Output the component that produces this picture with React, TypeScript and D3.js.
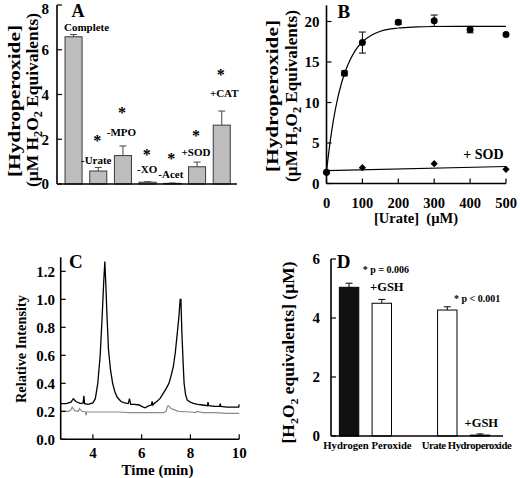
import React from "react";
import * as d3 from "d3";

const FONT = "'Liberation Serif', 'Times New Roman', Times, serif";

// ---------- Panel A ----------
const aCategories = ["Complete", "-Urate", "-MPO", "-XO", "-Acet", "+SOD", "+CAT"];
const aValues = [6.58, 0.58, 1.27, 0.08, 0.03, 0.77, 2.63];
const aErrors = [0.1, 0.16, 0.43, 0.02, 0.01, 0.21, 0.63];
const aLabelLevels = [7.05, 1.07, 2.34, 0.67, 0.45, 1.43, 4.08];
const aStarLevels = [NaN, 2.07, 3.31, 1.44, 1.26, 2.29, 5.02];
const aTicks = [0, 2, 4, 6, 8];

// ---------- Panel B ----------
const bConc = [0, 50, 100, 200, 300, 400, 500];
const bMean = [1.4, 13.6, 17.4, 19.9, 20.1, 19.0, 18.4];
const bErr = [0, 0.3, 1.3, 0.25, 0.7, 0.4, 0];
const sodConc = [0, 100, 300, 500];
const sodMean = [1.3, 1.95, 2.45, 1.75];
const fitConc = [0, 10, 20, 30, 40, 50, 60, 80, 100, 125, 150, 200, 250, 300, 400, 500];
const fitMean = [1.5, 5.1, 8.0, 10.3, 12.1, 13.55, 14.7, 16.4, 17.5, 18.3, 18.8, 19.2, 19.33, 19.38, 19.4, 19.4];
const sodFitConc = [0, 500];
const sodFitMean = [1.6, 2.1];
const bYTicks = [0, 5, 10, 15, 20];
const bXTicks = [0, 100, 200, 300, 400, 500];

// ---------- Panel C ----------
const blackTime = [2.68, 2.9, 3.1, 3.2, 3.3, 3.5, 3.6, 3.63, 3.66, 3.8, 4.0, 4.1, 4.2, 4.3, 4.38, 4.44, 4.49, 4.53, 4.58, 4.64, 4.72, 4.81, 4.9, 5.0, 5.15, 5.3, 5.45, 5.5, 5.55, 5.7, 5.9, 6.0, 6.14, 6.3, 6.4, 6.43, 6.46, 6.5, 6.62, 6.75, 6.89, 7.0, 7.12, 7.2, 7.3, 7.38, 7.46, 7.53, 7.58, 7.61, 7.65, 7.7, 7.74, 7.8, 7.87, 8.0, 8.12, 8.3, 8.5, 8.7, 8.72, 8.75, 9.0, 9.2, 9.22, 9.25, 9.5, 9.7, 9.98, 10.0];
const blackIntensity = [0.255, 0.255, 0.265, 0.29, 0.27, 0.255, 0.26, 0.31, 0.255, 0.25, 0.26, 0.29, 0.4, 0.6, 0.876, 1.11, 1.27, 1.11, 0.876, 0.64, 0.5, 0.4, 0.34, 0.3, 0.27, 0.26, 0.255, 0.29, 0.25, 0.25, 0.245, 0.235, 0.225, 0.24, 0.245, 0.27, 0.245, 0.255, 0.27, 0.29, 0.33, 0.36, 0.4, 0.45, 0.52, 0.62, 0.757, 0.88, 1.0, 1.0, 0.757, 0.55, 0.4, 0.32, 0.28, 0.265, 0.257, 0.25, 0.245, 0.24, 0.265, 0.24, 0.235, 0.235, 0.255, 0.235, 0.23, 0.23, 0.23, 0.25];
const grayTime = [2.68, 3.0, 3.1, 3.15, 3.25, 3.4, 3.45, 3.55, 3.7, 3.72, 3.75, 4.0, 4.5, 5.0, 5.5, 6.0, 6.5, 6.9, 7.0, 7.05, 7.1, 7.2, 7.35, 7.5, 8.0, 8.2, 8.25, 8.5, 9.0, 9.5, 10.0];
const grayIntensity = [0.2, 0.2, 0.21, 0.23, 0.205, 0.2, 0.22, 0.2, 0.195, 0.17, 0.195, 0.195, 0.195, 0.195, 0.19, 0.19, 0.19, 0.19, 0.2, 0.235, 0.24, 0.22, 0.21, 0.2, 0.195, 0.19, 0.2, 0.19, 0.19, 0.185, 0.185];
const cYTicks = [0, 0.2, 0.4, 0.6, 0.8, 1.0, 1.2];
const cXTicks = [4, 6, 8, 10];

// ---------- Panel D ----------
const dSlots = ["h2o2", "h2o2gsh", "gap", "urate", "urategsh"];
const dBarSlots = ["h2o2", "h2o2gsh", "urate", "urategsh"];
const dValues = [5.04, 4.5, 4.27, 0.03];
const dErrors = [0.14, 0.13, 0.11, 0.04];
const dFills = ["#111111", "#ffffff", "#ffffff", "#ffffff"];
const dGroupLabels = ["Hydrogen Peroxide", "Urate Hydroperoxide"];
const dYTicks = [0, 2, 4, 6];

const bold = { fontFamily: FONT, fontWeight: "bold" as const };

function RotTitle(props: { cx: number; cy: number; len: number; size: number; children: React.ReactNode }) {
  const { cx, cy, len, size, children } = props;
  return (
    <text
      transform={`translate(${cx},${cy}) rotate(-90)`}
      textAnchor="middle"
      dy="0.35em"
      fontSize={size}
      textLength={len}
      lengthAdjust="spacingAndGlyphs"
      {...bold}
    >
      {children}
    </text>
  );
}

export default function App() {
  const axisW = 1.6;

  // Panel A scales
  const aX = d3.scaleBand<string>().domain(aCategories).range([61.2, 234.1]).paddingInner(0.31).paddingOuter(0.155);
  const aY = d3.scaleLinear().domain([0, 8]).range([184, 5]);
  const aLabelDx = [13, -2, -1.5, -0.5, -1.5, -1, 2.5];

  // Panel B scales
  const bX = d3.scaleLinear().domain([0, 500]).range([326.5, 506]);
  const bY = d3.scaleLinear().domain([0, 20]).range([183.5, 21.5]);
  const fitLine = d3.line<number>().x((d) => bX(d)).y((_, i) => bY(fitMean[i])).curve(d3.curveMonotoneX);
  const sodLine = d3.line<number>().x((d) => bX(d)).y((_, i) => bY(sodFitMean[i]));
  const diamond = d3.symbol().type(d3.symbolSquare).size(26)();

  // Panel C scales
  const cX = d3.scaleLinear().domain([2.68, 10]).range([60.7, 239.2]);
  const cY = d3.scaleLinear().domain([0, 1.3]).range([439.3, 257.3]);
  const blackLine = d3.line<number>().x((d) => cX(d)).y((_, i) => cY(blackIntensity[i]));
  const grayLine = d3.line<number>().x((d) => cX(d)).y((_, i) => cY(grayIntensity[i]));

  // Panel D scales
  const dX = d3.scaleBand<string>().domain(dSlots).range([332.8, 496.3]).paddingInner(0.407).paddingOuter(0.2);
  const dY = d3.scaleLinear().domain([0, 6]).range([436, 259]);
  const dc = (s: string) => (dX(s) as number) + dX.bandwidth() / 2;

  return (
    <svg width={520} height={478} style={{ position: "absolute", left: 0, top: 0, background: "#fff" }}>
      <rect x={0} y={0} width={520} height={478} fill="#fff" />

      {/* ================= Panel A ================= */}
      <g>
        {aCategories.map((c, i) => {
          const x = aX(c) as number;
          const w = aX.bandwidth();
          const cx = x + w / 2;
          return (
            <g key={c}>
              <line x1={cx} x2={cx} y1={aY(aValues[i])} y2={aY(aValues[i] + aErrors[i])} stroke="#444" strokeWidth={1} />
              <line x1={cx - 3.5} x2={cx + 3.5} y1={aY(aValues[i] + aErrors[i])} y2={aY(aValues[i] + aErrors[i])} stroke="#444" strokeWidth={1} />
              <rect x={x} y={aY(aValues[i])} width={w} height={aY(0) - aY(aValues[i])} fill="#bdbdbd" stroke="#3a3a3a" strokeWidth={1} />
              <text x={cx + aLabelDx[i]} y={aY(aLabelLevels[i]) + 0.5} dy="0.35em" textAnchor="middle" fontSize={11} {...bold}>
                {c}
              </text>
              {!isNaN(aStarLevels[i]) && (
                <text x={cx - 1} y={aY(aStarLevels[i]) + 8} textAnchor="middle" fontSize={16} {...bold}>
                  *
                </text>
              )}
            </g>
          );
        })}
        <line x1={57} x2={237} y1={aY(0)} y2={aY(0)} stroke="#000" strokeWidth={axisW} />
        <line x1={57} x2={57} y1={aY(0)} y2={aY(8)} stroke="#000" strokeWidth={axisW} />
        {aTicks.map((t) => (
          <g key={t}>
            <line x1={57} x2={62} y1={aY(t)} y2={aY(t)} stroke="#000" strokeWidth={1.2} />
            <text x={49} y={Math.max(aY(t), 8.5)} dy="0.35em" textAnchor="end" fontSize={15} {...bold}>
              {t}
            </text>
          </g>
        ))}
        <text x={78} y={10.5} dy="0.35em" textAnchor="middle" fontSize={18} {...bold}>A</text>
        <RotTitle cx={14} cy={101} len={152} size={17}>[Hydroperoxide]</RotTitle>
        <RotTitle cx={31.7} cy={100} len={174} size={17}>
          (µM H<tspan dy={4} fontSize={12}>2</tspan>
          <tspan dy={-4}>O</tspan>
          <tspan dy={4} fontSize={12}>2</tspan>
          <tspan dy={-4}> Equivalents)</tspan>
        </RotTitle>
      </g>

      {/* ================= Panel B ================= */}
      <g>
        <path d={fitLine(fitConc) || ""} fill="none" stroke="#000" strokeWidth={1.2} />
        <path d={sodLine(sodFitConc) || ""} fill="none" stroke="#000" strokeWidth={1.2} />
        {bConc.map((c, i) =>
          bErr[i] > 0 ? (
            <g key={"e" + c}>
              <line x1={bX(c)} x2={bX(c)} y1={bY(bMean[i] - bErr[i])} y2={bY(bMean[i] + bErr[i])} stroke="#000" strokeWidth={1} />
              <line x1={bX(c) - 3.5} x2={bX(c) + 3.5} y1={bY(bMean[i] + bErr[i])} y2={bY(bMean[i] + bErr[i])} stroke="#000" strokeWidth={1} />
              <line x1={bX(c) - 3.5} x2={bX(c) + 3.5} y1={bY(bMean[i] - bErr[i])} y2={bY(bMean[i] - bErr[i])} stroke="#000" strokeWidth={1} />
            </g>
          ) : null
        )}
        {bConc.map((c, i) => (
          <circle key={"c" + c} cx={bX(c)} cy={bY(bMean[i])} r={3.5} fill="#000" />
        ))}
        {sodConc.map((c, i) => (
          <path key={"d" + c} d={diamond || ""} transform={`translate(${bX(c)},${bY(sodMean[i])}) rotate(45)`} fill="#000" />
        ))}
        <text x={bX(437)} y={bY(3.64)} dy="0.35em" textAnchor="middle" fontSize={14} {...bold}>+ SOD</text>
        <line x1={bX(0)} x2={bX(500)} y1={bY(0)} y2={bY(0)} stroke="#000" strokeWidth={axisW} />
        <line x1={bX(0)} x2={bX(0)} y1={bY(0)} y2={bY(22)} stroke="#000" strokeWidth={axisW} />
        {bYTicks.map((t) => (
          <g key={t}>
            <line x1={bX(0)} x2={bX(0) + 5} y1={bY(t)} y2={bY(t)} stroke="#000" strokeWidth={1.2} />
            <text x={bX(0) - 7} y={bY(t)} dy="0.35em" textAnchor="end" fontSize={15} {...bold}>{t}</text>
          </g>
        ))}
        {bXTicks.map((t) => (
          <g key={t}>
            <line x1={bX(t)} x2={bX(t)} y1={bY(0)} y2={bY(0) - 5} stroke="#000" strokeWidth={1.2} />
            <text x={bX(t)} y={202.5} dy="0.35em" textAnchor="middle" fontSize={14.5} {...bold}>{t}</text>
          </g>
        ))}
        <text x={416} y={218} dy="0.35em" textAnchor="middle" fontSize={14.5} {...bold} style={{ whiteSpace: "pre" }}>
          {"[Urate]  (µM)"}
        </text>
        <text x={343.8} y={11.7} dy="0.35em" textAnchor="middle" fontSize={19} {...bold}>B</text>
        <RotTitle cx={271.7} cy={96} len={152} size={17}>[Hydroperoxide]</RotTitle>
        <RotTitle cx={290.7} cy={96} len={172} size={17}>
          (µM H<tspan dy={4} fontSize={12}>2</tspan>
          <tspan dy={-4}>O</tspan>
          <tspan dy={4} fontSize={12}>2</tspan>
          <tspan dy={-4}> Equivalents)</tspan>
        </RotTitle>
      </g>

      {/* ================= Panel C ================= */}
      <g>
        <path d={grayLine(grayTime) || ""} fill="none" stroke="#8c8c8c" strokeWidth={1.2} />
        <path d={blackLine(blackTime) || ""} fill="none" stroke="#000" strokeWidth={1.3} />
        <line x1={cX(2.68)} x2={cX(10)} y1={cY(0)} y2={cY(0)} stroke="#000" strokeWidth={axisW} />
        <line x1={cX(2.68)} x2={cX(2.68)} y1={cY(0)} y2={cY(1.3)} stroke="#000" strokeWidth={axisW} />
        {cYTicks.map((t) => (
          <g key={t}>
            <line x1={cX(2.68)} x2={cX(2.68) + 5} y1={cY(t)} y2={cY(t)} stroke="#000" strokeWidth={1.2} />
            <text x={55} y={cY(t)} dy="0.35em" textAnchor="end" fontSize={15} {...bold}>{d3.format(".1f")(t)}</text>
          </g>
        ))}
        {cXTicks.map((t) => (
          <g key={t}>
            <line x1={cX(t)} x2={cX(t)} y1={cY(0)} y2={cY(0) - 5} stroke="#000" strokeWidth={1.2} />
            <text x={cX(t)} y={452.3} dy="0.35em" textAnchor="middle" fontSize={15} {...bold}>{t}</text>
          </g>
        ))}
        <text x={157.5} y={470} dy="0.35em" textAnchor="middle" fontSize={15} {...bold}>Time (min)</text>
        <text x={75.8} y={261.7} dy="0.35em" textAnchor="middle" fontSize={19} {...bold}>C</text>
        <RotTitle cx={20.7} cy={349} len={108} size={14}>Relative Intensity</RotTitle>
      </g>

      {/* ================= Panel D ================= */}
      <g>
        {dBarSlots.map((s, i) => {
          const x = dX(s) as number;
          const w = dX.bandwidth();
          const cx = x + w / 2;
          return (
            <g key={s}>
              <line x1={cx} x2={cx} y1={dY(dValues[i])} y2={dY(dValues[i] + dErrors[i])} stroke="#000" strokeWidth={1} />
              <line x1={cx - 3.5} x2={cx + 3.5} y1={dY(dValues[i] + dErrors[i])} y2={dY(dValues[i] + dErrors[i])} stroke="#000" strokeWidth={1} />
              <rect x={x} y={dY(dValues[i])} width={w} height={dY(0) - dY(dValues[i])} fill={dFills[i]} stroke="#000" strokeWidth={1} />
            </g>
          );
        })}
        <line x1={331} x2={503} y1={dY(0)} y2={dY(0)} stroke="#000" strokeWidth={axisW} />
        <line x1={331} x2={331} y1={dY(0)} y2={dY(6)} stroke="#000" strokeWidth={axisW} />
        {dYTicks.map((t) => (
          <g key={t}>
            <line x1={331} x2={336} y1={dY(t)} y2={dY(t)} stroke="#000" strokeWidth={1.2} />
            <text x={320} y={dY(t)} dy="0.35em" textAnchor="end" fontSize={15} {...bold}>{t}</text>
          </g>
        ))}
        <text x={(dc("h2o2") + dc("h2o2gsh")) / 2 + 2} y={445} dy="0.35em" textAnchor="middle" fontSize={10.7} {...bold}>{dGroupLabels[0]}</text>
        <text x={(dc("urate") + dc("urategsh")) / 2 + 3} y={445} dy="0.35em" textAnchor="middle" fontSize={10.7} textLength={90} {...bold}>{dGroupLabels[1]}</text>
        <text x={dc("h2o2gsh") + 4} y={dY(5.63)} dy="0.35em" textAnchor="middle" fontSize={10} {...bold}>* p = 0.006</text>
        <text x={dc("h2o2gsh") + 5} y={dY(5.06)} dy="0.35em" textAnchor="middle" fontSize={12.5} {...bold}>+GSH</text>
        <text x={dc("urategsh") - 3} y={dY(4.67)} dy="0.35em" textAnchor="middle" fontSize={10} {...bold}>* p &lt; 0.001</text>
        <text x={dc("urategsh") + 1.3} y={dY(0.45)} dy="0.35em" textAnchor="middle" fontSize={12.5} {...bold}>+GSH</text>
        <text x={343.5} y={261.7} dy="0.35em" textAnchor="middle" fontSize={19} {...bold}>D</text>
        <RotTitle cx={288.3} cy={352.5} len={182} size={16}>
          [H<tspan dy={4} fontSize={11}>2</tspan>
          <tspan dy={-4}>O</tspan>
          <tspan dy={4} fontSize={11}>2</tspan>
          <tspan dy={-4}>{" equivalents]  (µM)"}</tspan>
        </RotTitle>
      </g>
    </svg>
  );
}
